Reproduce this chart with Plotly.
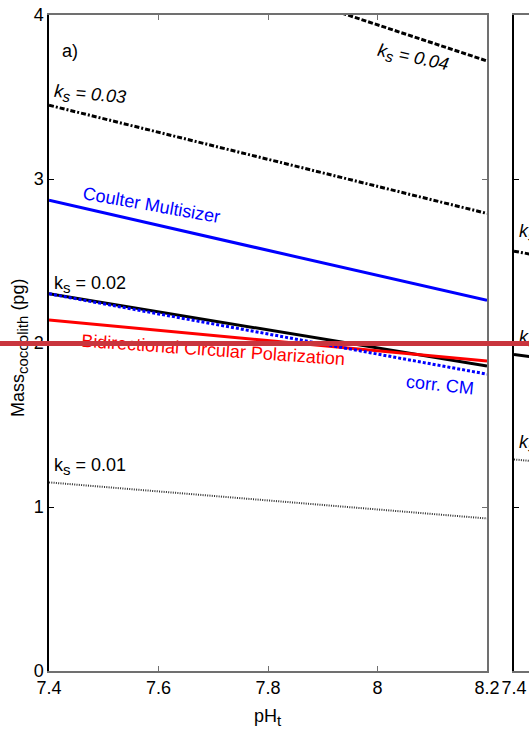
import plotly.graph_objects as go

# ---------------- data ----------------
ph_t = [7.4, 8.2]
x_tick_vals = [7.4, 7.6, 7.8, 8.0, 8.2]
x_tick_text = ["7.4", "7.6", "7.8", "8", "8.2"]
y_tick_vals = [0, 1, 2, 3, 4]
y_tick_text = ["0", "1", "2", "3", "4"]

ks_001 = [1.15, 0.93]
ks_002 = [2.30, 1.86]
ks_003 = [3.45, 2.79]
ks_004 = [4.60, 3.72]
coulter_multisizer = [2.87, 2.26]
bidirectional_cp = [2.14, 1.89]
corr_cm = [2.30, 1.81]

# panel b (only its left edge is visible)
ks_001_b = [1.29, 1.04]
ks_002_b = [1.93, 1.56]
ks_003_b = [2.56, 2.07]
panel_b_ticks = [7.4]
panel_b_ticktext = ["7.4"]

# ---------------- layout geometry ----------------
W, H = 529, 731
L, R, T, B = 49, 0, 15, 60
PW, PH = W - L - R, H - T - B
A_RIGHT = 487   # right edge of panel a (px)
B_LEFT = 514    # left edge of panel b (px)


def px(xp):
    return (xp - L) / PW


def py(yp):
    return (H - B - yp) / PH


dom_a = [0, px(A_RIGHT)]
dom_b = [px(B_LEFT), 1]
scale = (8.2 - 7.4) / (A_RIGHT - L)
range_b = [7.4, 7.4 + (W - B_LEFT) * scale]

FONT = "Liberation Sans, Arial, sans-serif"
GRAY = "#707070"

fig = go.Figure()


def line(x, y, color, width, dash, xa="x", ya="y"):
    fig.add_trace(go.Scatter(x=x, y=y, mode="lines", xaxis=xa, yaxis=ya,
                             line=dict(color=color, width=width, dash=dash),
                             hoverinfo="skip", showlegend=False))


# panel a
line(ph_t, ks_001, "#303030", 2, "1px,1.3px")
line(ph_t, ks_004, "black", 3, "5px,2px")
line(ph_t, ks_003, "black", 3, "5px,2px,2px,2px")
line(ph_t, ks_002, "black", 3, "solid")
line(ph_t, coulter_multisizer, "#0000FF", 3, "solid")
line(ph_t, bidirectional_cp, "#FF0000", 3, "solid")
line(ph_t, corr_cm, "#0000FF", 3, "3px,2px")

# panel b
line(ph_t, ks_001_b, "#303030", 2, "1px,1.3px", "x2", "y2")
line(ph_t, ks_003_b, "black", 3, "5px,2px,2px,2px", "x2", "y2")
line(ph_t, ks_002_b, "black", 3, "solid", "x2", "y2")

tickfont = dict(family=FONT, size=18, color="black")

fig.update_layout(
    width=W, height=H,
    margin=dict(l=L, r=R, t=T, b=B, pad=0, autoexpand=False),
    paper_bgcolor="white", plot_bgcolor="white",
    showlegend=False,
    xaxis=dict(domain=dom_a, range=[7.4, 8.2], anchor="y", automargin=False,
               tickvals=x_tick_vals, ticktext=x_tick_text,
               ticks="inside", ticklen=5, tickcolor=GRAY,
               showline=True, linecolor=GRAY, linewidth=1.5, mirror="ticks",
               showgrid=False, zeroline=False, tickfont=tickfont),
    yaxis=dict(domain=[0, 1], range=[0, 4], anchor="x", automargin=False,
               tickvals=y_tick_vals, ticktext=y_tick_text,
               ticks="inside", ticklen=5, tickcolor="black",
               showline=True, linecolor="black", linewidth=1.5,
               showgrid=False, zeroline=False, tickfont=tickfont),
    yaxis3=dict(range=[0, 4], overlaying="y", side="right", anchor="x",
                automargin=False,
                tickvals=y_tick_vals, showticklabels=False,
                ticks="inside", ticklen=5, tickcolor=GRAY,
                showline=True, linecolor=GRAY, linewidth=1.5,
                showgrid=False, zeroline=False),
    xaxis2=dict(domain=dom_b, range=range_b, anchor="y2", automargin=False,
                tickvals=panel_b_ticks, ticktext=panel_b_ticktext,
                ticks="inside", ticklen=5, tickcolor=GRAY,
                showline=True, linecolor=GRAY, linewidth=1.5, mirror=True,
                showgrid=False, zeroline=False, tickfont=tickfont),
    yaxis2=dict(domain=[0, 1], range=[0, 4], anchor="x2", automargin=False,
                tickvals=y_tick_vals, showticklabels=False,
                ticks="inside", ticklen=5, tickcolor="black",
                showline=True, linecolor="black", linewidth=1.5,
                showgrid=False, zeroline=False),
)

# a dummy trace on yaxis3 so the axis is drawn
fig.add_trace(go.Scatter(x=[None], y=[None], xaxis="x", yaxis="y3",
                         showlegend=False, hoverinfo="skip"))


def note(text, xp, yp, color="black", angle=0, size=18, xanchor="center"):
    fig.add_annotation(text=text, x=px(xp), y=py(yp), xref="paper", yref="paper",
                       xanchor=xanchor, yanchor="middle", showarrow=False,
                       textangle=angle,
                       font=dict(family=FONT, size=size, color=color))


SUB = "<sub><span style='font-size:15px'>{}</span></sub>"

note("a)", 70, 51)
note("<i>k" + SUB.format("s") + " = 0.04</i>", 413, 58, angle=12)
note("<i>k" + SUB.format("s") + " = 0.03</i>", 90, 95, angle=5)
note("Coulter Multisizer", 151, 205, color="#0000FF", angle=10)
note("k" + SUB.format("s") + " = 0.02", 90, 284)
note("Bidirectional Circular Polarization", 213, 350, color="#FF0000", angle=4)
note("corr. CM", 440, 385, color="#0000FF", angle=6)
note("k" + SUB.format("s") + " = 0.01", 90, 466)

# panel b (clipped by the page edge)
note("b)", 527, 51, color="#c8c8c8", xanchor="left")
note("<i>k" + SUB.format("s") + "</i>", 517, 233, xanchor="left")
note("<i>k" + SUB.format("s") + "</i>", 517, 338, xanchor="left")
note("<i>k" + SUB.format("s") + "</i>", 517, 443, xanchor="left")

# axis titles
note("pH" + SUB.format("t"), 268, 717, size=18)
note("Mass" + SUB.format("coccolith") + " (pg)", 20, 348, angle=-90, size=18)

# red horizontal bar drawn on top of everything
fig.add_annotation(text=" ", x=px(W / 2), y=py(343), xref="paper", yref="paper",
                   xanchor="center", yanchor="middle", showarrow=False,
                   width=W + 40, height=5, bgcolor="#C9353D",
                   borderpad=0, borderwidth=0, font=dict(size=2))

fig.write_html("out.html")
